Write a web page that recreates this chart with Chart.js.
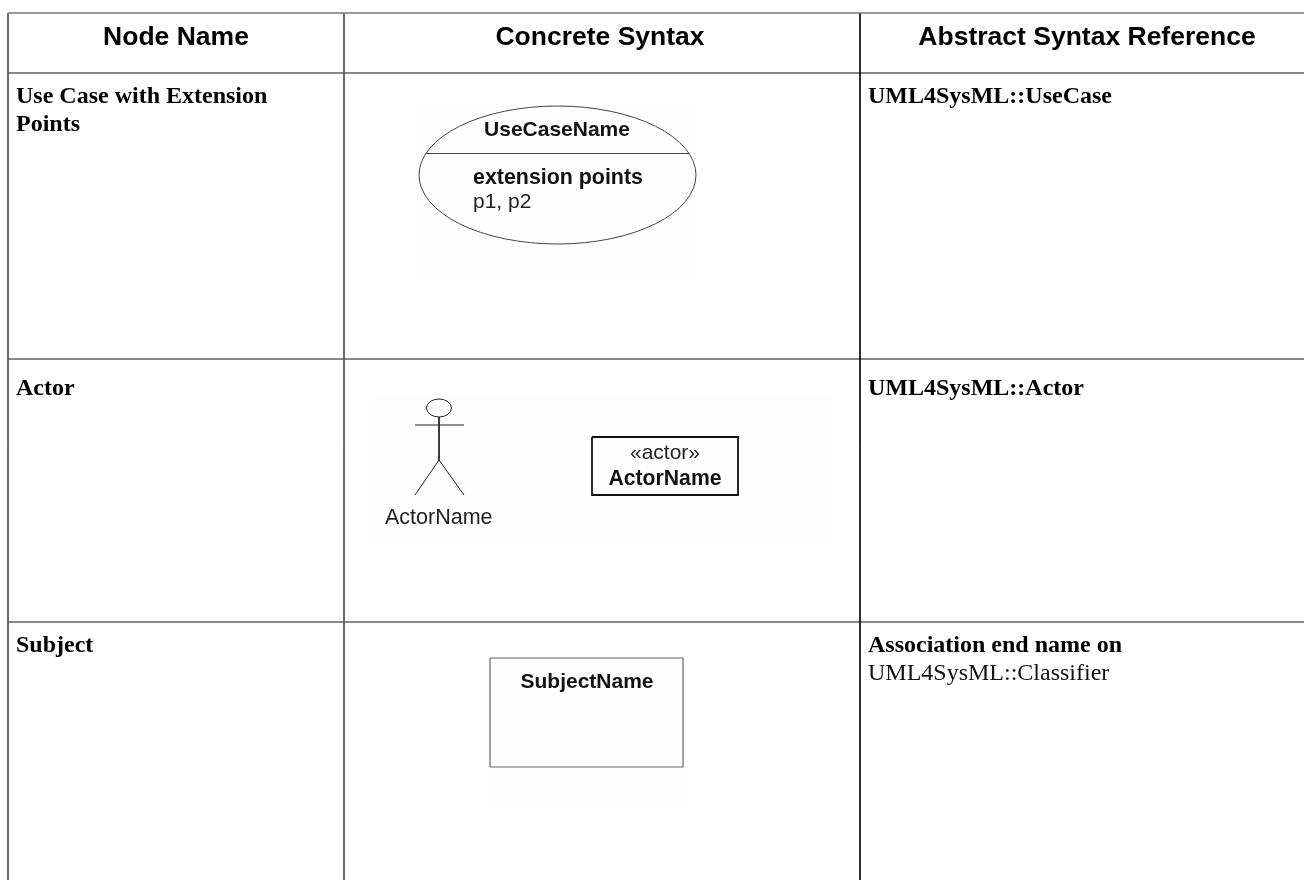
<!DOCTYPE html>
<html>
<head>
<meta charset="utf-8">
<style>html,body{margin:0;padding:0;background:#fff;overflow:hidden}#w{position:relative;width:1304px;height:880px}</style>
<script src="https://cdn.jsdelivr.net/npm/chart.js@4"></script>
</head>
<body>
<div id="w"><canvas id="c"></canvas></div>
<script>
// Table content
const headers = ["Node Name", "Concrete Syntax", "Abstract Syntax Reference"];
const headerX = [176, 600, 1087];
const nodeNames = [["Use Case with Extension", "Points"], ["Actor"], ["Subject"]];
const refBold = ["UML4SysML::UseCase", "UML4SysML::Actor", "Association end name on"];
const refPlain = ["", "", "UML4SysML::Classifier"];
const rowBaseline = [103, 395, 652];

// Table rules
const topRule = [[8, 13], [1304, 13]];
const verticalRules = [[[8, 13], [8, 880]], [[344, 13], [344, 880]], [[860, 13], [860, 880]]];
const horizontalRules = [[[8, 73], [1304, 73]], [[8, 359], [1304, 359]], [[8, 622], [1304, 622]]];

// Notation shapes
const useCaseEllipse = { cx: 557.5, cy: 175, rx: 138.5, ry: 69 };
const useCaseDivider = [[426, 153.5], [689, 153.5]];
const actorHead = { cx: 439, cy: 408, rx: 12.5, ry: 9 };
const actorArms = [[415, 425], [464, 425]];
const actorBody = [[439, 417], [439, 460]];
const actorLegs = [[415, 495], [439, 460], [464, 495]];
const actorBox = [[592, 437], [738, 437], [738, 495], [592, 495], [592, 437]];
const subjectBox = [[490, 658], [683, 658], [683, 767], [490, 767], [490, 658]];
const faintPatches = [[416, 103, 281, 178], [372, 395, 460, 150], [488, 660, 198, 146]];

const seg = (data, color, width) => ({ data: data.map(p => ({ x: p[0], y: p[1] })), showLine: true, borderColor: color, borderWidth: width, pointRadius: 0, fill: false, tension: 0 });
const datasets = [
  seg(topRule, "#777777", 1.6),
  ...verticalRules.map((r, i) => seg(r, i === 2 ? "#111111" : "#555555", 1)),
  ...horizontalRules.map(r => seg(r, "#111111", 1)),
  seg(useCaseDivider, "#444444", 1),
  seg(actorArms, "#222222", 1),
  seg(actorBody, "#222222", 1),
  seg(actorLegs, "#222222", 1),
  seg(actorBox, "#111111", 1.8),
  seg(subjectBox, "#666666", 1.2)
];

const SANS = '"Liberation Sans"', SERIF = '"Liberation Serif"';
const labels = [];
headers.forEach((t, i) => labels.push([t, headerX[i], 45, "bold 26.5px " + SANS, "center", "#000"]));
nodeNames.forEach((lines, i) => lines.forEach((t, j) => labels.push([t, 16, rowBaseline[i] + j * 28, "bold 24px " + SERIF, "left", "#000"])));
refBold.forEach((t, i) => labels.push([t, 868, rowBaseline[i], "bold 24px " + SERIF, "left", "#000"]));
refPlain.forEach((t, i) => { if (t) labels.push([t, 868, rowBaseline[i] + 28, "24px " + SERIF, "left", "#111"]); });
labels.push(
  ["UseCaseName", 557, 136, "bold 21px " + SANS, "center", "#111"],
  ["extension points", 473, 184, "bold 21.4px " + SANS, "left", "#111"],
  ["p1, p2", 473, 208, "21px " + SANS, "left", "#222"],
  ["ActorName", 385, 524, "21.5px " + SANS, "left", "#222"],
  ["«actor»", 665, 459, "21px " + SANS, "center", "#222"],
  ["ActorName", 665, 485, "bold 21.2px " + SANS, "center", "#111"],
  ["SubjectName", 587, 688, "bold 21px " + SANS, "center", "#111"]
);

const artwork = {
  id: "artwork",
  beforeDatasetsDraw(chart) {
    const { ctx, scales: { x, y } } = chart;
    ctx.save();
    ctx.fillStyle = "#fefefe";
    faintPatches.forEach(p => {
      const x0 = x.getPixelForValue(p[0]), y0 = y.getPixelForValue(p[1]);
      ctx.fillRect(x0, y0, x.getPixelForValue(p[0] + p[2]) - x0, y.getPixelForValue(p[1] + p[3]) - y0);
    });
    ctx.restore();
  },
  afterDatasetsDraw(chart) {
    const { ctx, scales: { x, y } } = chart;
    ctx.save();
    [[useCaseEllipse, "#444444"], [actorHead, "#222222"]].forEach(([e, color]) => {
      ctx.beginPath();
      ctx.ellipse(x.getPixelForValue(e.cx), y.getPixelForValue(e.cy), x.getPixelForValue(e.cx + e.rx) - x.getPixelForValue(e.cx), y.getPixelForValue(e.cy + e.ry) - y.getPixelForValue(e.cy), 0, 0, Math.PI * 2);
      ctx.strokeStyle = color;
      ctx.lineWidth = 1;
      ctx.stroke();
    });
    ctx.textBaseline = "alphabetic";
    labels.forEach(([t, lx, ly, font, align, color]) => {
      ctx.font = font;
      ctx.textAlign = align;
      ctx.fillStyle = color;
      ctx.fillText(t, x.getPixelForValue(lx), y.getPixelForValue(ly));
    });
    ctx.restore();
  }
};

document.fonts.ready.then(() => {
  new Chart(document.getElementById("c"), {
    type: "scatter",
    data: { datasets },
    plugins: [artwork],
    options: {
      responsive: true,
      maintainAspectRatio: false,
      animation: false,
      layout: { padding: 0 },
      plugins: { legend: { display: false }, tooltip: { enabled: false }, title: { display: false } },
      scales: {
        x: { type: "linear", min: 0, max: 1304, display: false },
        y: { type: "linear", min: 0, max: 880, reverse: true, display: false }
      }
    }
  });
});
</script>
</body>
</html>
